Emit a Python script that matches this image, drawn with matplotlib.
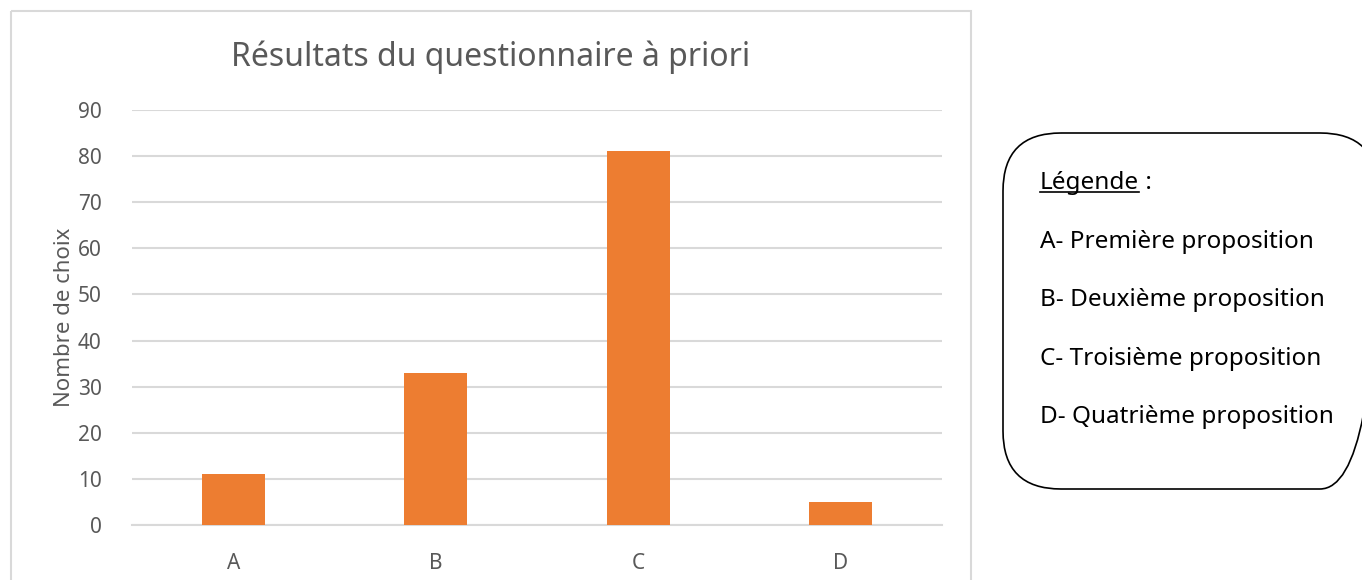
import matplotlib
matplotlib.use("Agg")
import matplotlib.pyplot as plt
from matplotlib.patches import FancyBboxPatch, Rectangle

categories = ["A", "B", "C", "D"]
counts = [11, 33, 81, 5]
yticks = list(range(0, 100, 10))
legend_title = "Légende"
legend_lines = ["A- Première proposition", "B- Deuxième proposition",
                "C- Troisième proposition", "D- Quatrième proposition"]

W, H = 1362, 580
plt.rcParams["font.family"] = ["Noto Sans", "DejaVu Sans"]
grey = "#595959"

fig = plt.figure(figsize=(W / 100, H / 100), dpi=100)

# overlay in pixel coords for the decorations
ov = fig.add_axes([0, 0, 1, 1], zorder=0)
ov.set_xlim(0, W); ov.set_ylim(H, 0); ov.axis("off")

ax = fig.add_axes([132 / W, 1 - 525 / H, 810 / W, 415 / H], zorder=1)
ax.patch.set_alpha(0)
ax.bar(range(len(categories)), counts, width=0.31, color="#ED7D31", zorder=3)
ax.set_xlim(-0.5, len(categories) - 0.5)
ax.set_ylim(0, 90)
ax.set_yticks(yticks)
ax.set_xticks(range(len(categories)))
ax.set_xticklabels(categories)
ax.tick_params(length=0, labelsize=15, labelcolor=grey)
ax.tick_params(axis="y", pad=22)
ax.tick_params(axis="x", pad=20)
ax.grid(axis="y", color="#D9D9D9", lw=1.5, zorder=0)
for s in ("top", "right", "left"):
    ax.spines[s].set_visible(False)
ax.spines["bottom"].set_color("#D9D9D9")
ax.spines["bottom"].set_linewidth(1.5)
ax.set_ylabel("Nombre de choix", fontsize=16, color=grey, labelpad=2)

ov.text(491, 57, "Résultats du questionnaire à priori",
        ha="center", va="center", fontsize=23, color=grey)

# chart area border
ov.add_patch(Rectangle((11, 11), 960, 600, fill=False, ec="#D9D9D9", lw=1.5,
                       clip_on=True))

# side legend box (rounded, cut by the right edge)
ov.add_patch(FancyBboxPatch((1003, 133), 375, 356,
                            boxstyle="round,pad=0,rounding_size=58",
                            fill=False, ec="black", lw=1.2))

t = ov.text(1040, 183, legend_title, ha="left", va="center",
            fontsize=17.5, color="black")
fig.canvas.draw()
bb = t.get_window_extent().transformed(ov.transData.inverted())
x1 = max(bb.x0, bb.x1)
ov.plot([1040, x1], [192, 192], color="black", lw=1.2)
ov.text(x1, 183, " :", ha="left", va="center", fontsize=17.5, color="black")
for i, txt in enumerate(legend_lines):
    ov.text(1040, 242 + 58.3 * i, txt, ha="left", va="center",
            fontsize=17.5, color="black")

fig.savefig("out.png", dpi=100)
